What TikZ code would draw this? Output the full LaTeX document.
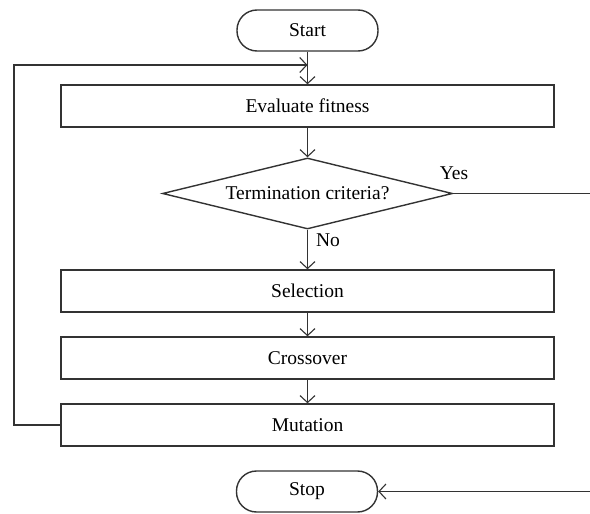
\documentclass[tikz,border=0pt]{standalone}
\usepackage{fontspec}
\setmainfont{Liberation Serif}
\usetikzlibrary{shapes.geometric,arrows.meta}
\begin{document}
\begin{tikzpicture}[x=1pt,y=-1pt,
  every node/.style={font=\fontsize{19.5}{22}\selectfont, text=black},
  ln/.style={draw=black!80, line width=1.4pt},
  arr/.style={ln, -{Straight Barb[length=7pt,width=15pt,line width=1.1pt]}},
  stepbox/.style={ln, rectangle, minimum width=493pt, minimum height=42pt, inner sep=0pt},
  term/.style={ln, rectangle, rounded corners=20pt, minimum width=141pt, minimum height=41pt, inner sep=0pt},
  decision/.style={ln, diamond, shape aspect=4.08, minimum width=290pt, minimum height=71pt, inner sep=0pt}]
\useasboundingbox (0,0) rectangle (590,514);
\node[term] (start) at (307.5,30.5) {Start};
\node[stepbox] (eval) at (307.5,106) {Evaluate fitness};
\node[decision] (crit) at (307.5,193.5) {Termination criteria?};
\node[stepbox] (sel) at (307.5,291) {Selection};
\node[stepbox] (cross) at (307.5,358) {Crossover};
\node[stepbox] (mut) at (307.5,425) {Mutation};
\node[term] (stop) at (307,491.5) {Stop};
\coordinate (ltip) at (307.5,65);
\coordinate (lc) at (14,65);
\coordinate (yesend) at (591,193.5);
\coordinate (stopin) at (591,491.5);
\draw[arr] (start) -- (eval);
\draw[arr] (eval) -- (crit);
\draw[arr] (crit) -- (sel);
\draw[arr] (sel) -- (cross);
\draw[arr] (cross) -- (mut);
\draw[arr] (mut.west) -| (lc) -- (ltip);
\draw[ln] (crit.east) -- (yesend);
\draw[arr] (stopin) -- (stop.east);
\node at (454,173) {Yes};
\node at (328,240) {No};
\end{tikzpicture}
\end{document}
